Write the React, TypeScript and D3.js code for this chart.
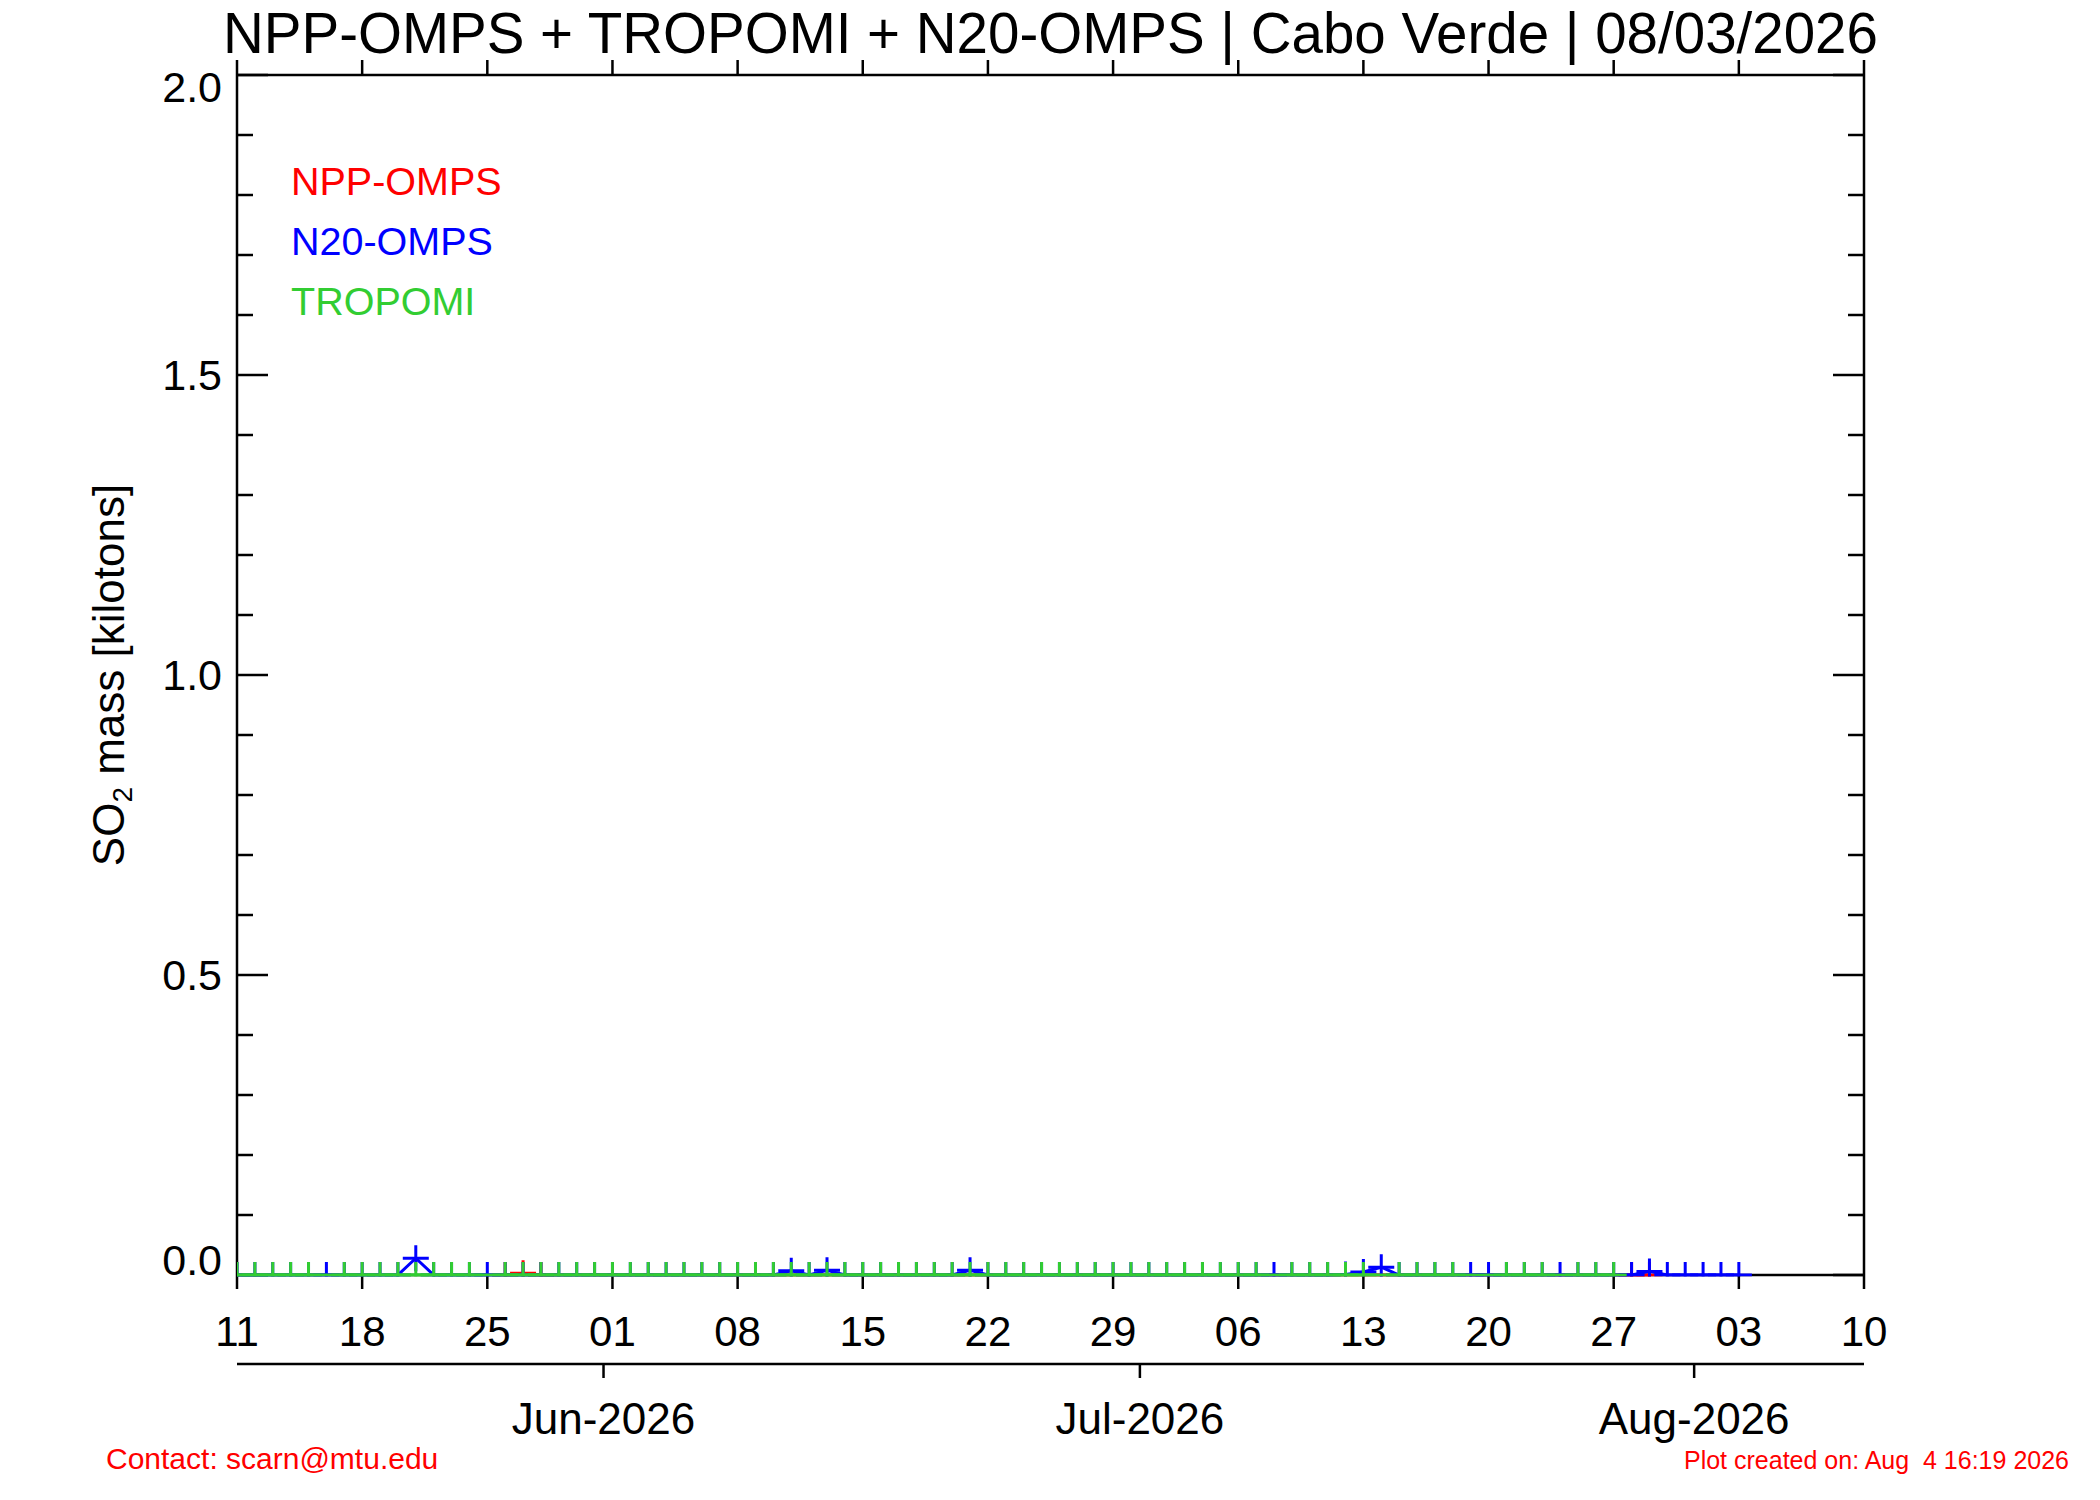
import * as d3 from "d3";

// date range of the day axis
const START = "2026-05-11";
const END = "2026-08-10";

const yMajorTicks = [0, 0.5, 1.0, 1.5, 2.0];
const yTickLabels = ["0.0", "0.5", "1.0", "1.5", "2.0"];

// N20-OMPS, one value per day from May 11 to Aug 03 (kilotons)
const n20Values = [
  0, 0, 0, 0, 0, 0, 0, // May 11-17
  0, 0, 0, 0.028, 0, 0, 0, // May 18-24
  0, 0, 0, 0, 0, 0, 0, // May 25-31
  0, 0, 0, 0, 0, 0, 0, // Jun 01-07
  0, 0, 0, 0.007, 0, 0.008, 0, // Jun 08-14
  0, 0, 0, 0, 0, 0, 0.008, // Jun 15-21
  0, 0, 0, 0, 0, 0, 0, // Jun 22-28
  0, 0, 0, 0, 0, 0, 0, // Jun 29-Jul 05
  0, 0, 0, 0, 0, 0, 0.001, // Jul 06-12
  0.005, 0.013, 0, 0, 0, 0, 0, // Jul 13-19
  0, 0, 0, 0, 0, 0, 0, // Jul 20-26
  0, 0, 0.006, 0, 0, 0, 0, // Jul 27-Aug 02
  0, // Aug 03
];

// TROPOMI, one value per day from May 11 to Jul 27, null = no data
const tropomiValues = [
  0, 0, 0, 0, 0, null, 0, // May 11-17
  0, 0, 0, 0, 0, 0, 0, // May 18-24
  null, 0, 0, 0, 0, 0, 0, // May 25-31
  0, 0, 0, 0, 0, 0, 0, // Jun 01-07
  0, 0, 0, 0, 0, 0, 0, // Jun 08-14
  0, 0, 0, 0, 0, 0, 0, // Jun 15-21
  0, 0, 0, 0, 0, 0, 0, // Jun 22-28
  0, 0, 0, 0, 0, 0, 0, // Jun 29-Jul 05
  0, 0, null, 0, 0, 0, 0, // Jul 06-12
  0, null, 0, 0, 0, 0, null, // Jul 13-19
  null, 0, 0, 0, null, 0, 0, // Jul 20-26
  0, // Jul 27
];

// NPP-OMPS
const nppDates = ["2026-05-26", "2026-05-27", "2026-05-28", "2026-07-28", "2026-07-29"];
const nppValues = [0, 0.003, 0, 0, 0];

const legendNames = ["NPP-OMPS", "N20-OMPS", "TROPOMI"];
const legendColors = ["#ff0000", "#0000ff", "#32cd32"];

const FONT = "'Liberation Sans', Arial, Helvetica, sans-serif";

type Pt = { date: Date; v: number };

export default function App() {
  const W = 2100;
  const H = 1500;
  const left = 237;
  const right = 1864;
  const top = 75;
  const bottom = 1275;

  const parse = d3.utcParse("%Y-%m-%d");
  const t0 = parse(START) as Date;
  const t1 = parse(END) as Date;

  const x = d3.scaleUtc().domain([t0, t1]).range([left, right]);
  // month axis is offset by half a day
  const xMonth = d3
    .scaleUtc()
    .domain([d3.utcHour.offset(t0, 12), d3.utcHour.offset(t1, 12)])
    .range([left, right]);
  const y = d3.scaleLinear().domain([0, 2]).range([bottom, top]);

  const weekTicks = d3.utcMonday.range(t0, d3.utcDay.offset(t1, 1));
  const monthTicks = d3.utcMonth.range(d3.utcDay.offset(t0, 1), t1);
  const yMinor = y.ticks(20);
  const fmtDay = d3.utcFormat("%d");
  const fmtMonth = d3.utcFormat("%b-%Y");

  const daily = (vals: (number | null)[]): Pt[] =>
    vals
      .map((v, i) => ({ date: d3.utcDay.offset(t0, i), v }))
      .filter((d) => d.v != null) as Pt[];

  const series = [
    { color: legendColors[0], data: nppDates.map((s, i) => ({ date: parse(s) as Date, v: nppValues[i] })) },
    { color: legendColors[1], data: daily(n20Values) },
    { color: legendColors[2], data: daily(tropomiValues) },
  ];

  const line = d3
    .line<Pt>()
    .x((d) => x(d.date))
    .y((d) => y(d.v));

  const plus = (d: Pt) => {
    const px = x(d.date);
    const py = y(d.v);
    return `M${px - 13},${py}h26M${px},${py - 13}v26`;
  };

  const yLabelDy = (v: number) => (v === 2 ? 27 : v === 0 ? 0 : 15);

  return (
    <svg
      width={W}
      height={H}
      style={{ position: "absolute", left: 0, top: 0, background: "#fff" }}
      fontFamily={FONT}
    >
      <rect width={W} height={H} fill="#fff" />
      <defs>
        <clipPath id="plotClip">
          <rect x={left} y={top} width={right - left} height={bottom - top + 1.5} />
        </clipPath>
      </defs>

      <text x={(left + right) / 2} y={53} fontSize={56.5} textAnchor="middle">
        NPP-OMPS + TROPOMI + N20-OMPS | Cabo Verde | 08/03/2026
      </text>

      {/* frame */}
      <g stroke="#000" strokeWidth={2.5} fill="none">
        <line x1={left} x2={right} y1={top} y2={top} />
        <line x1={left} x2={right} y1={bottom} y2={bottom} />
        <line x1={left} x2={left} y1={top} y2={bottom} />
        <line x1={right} x2={right} y1={top} y2={bottom} />
        {weekTicks.map((d, i) => (
          <g key={"w" + i}>
            <line x1={x(d)} x2={x(d)} y1={top} y2={top - 15} />
            <line x1={x(d)} x2={x(d)} y1={bottom} y2={bottom + 14} />
          </g>
        ))}
        {yMinor.map((v, i) => {
          const len = yMajorTicks.includes(v) ? 31 : 16;
          return (
            <g key={"y" + i}>
              <line x1={left} x2={left + len} y1={y(v)} y2={y(v)} />
              <line x1={right} x2={right - len} y1={y(v)} y2={y(v)} />
            </g>
          );
        })}
        <line x1={left} x2={right} y1={1364} y2={1364} />
        {monthTicks.map((d, i) => (
          <line key={"m" + i} x1={xMonth(d)} x2={xMonth(d)} y1={1364} y2={1378} />
        ))}
      </g>

      {/* tick labels */}
      {yMajorTicks.map((v, i) => (
        <text key={"yl" + i} x={222} y={y(v) + yLabelDy(v)} fontSize={43} textAnchor="end">
          {yTickLabels[i]}
        </text>
      ))}
      {weekTicks.map((d, i) => (
        <text key={"xl" + i} x={x(d)} y={1346} fontSize={42} textAnchor="middle">
          {fmtDay(d)}
        </text>
      ))}
      {monthTicks.map((d, i) => (
        <text key={"ml" + i} x={xMonth(d)} y={1434} fontSize={44} textAnchor="middle">
          {fmtMonth(d)}
        </text>
      ))}

      <text
        transform="translate(124,675) rotate(-90)"
        fontSize={44}
        textAnchor="middle"
        style={{ whiteSpace: "pre" }}
      >
        SO<tspan fontSize={28} dy={8}>2</tspan>
        <tspan dy={-8}> mass [kilotons]</tspan>
      </text>

      {/* data */}
      <g clipPath="url(#plotClip)" fill="none" strokeWidth={3}>
        {series.map((s, i) => (
          <g key={"s" + i} stroke={s.color}>
            <path d={line(s.data) || ""} />
            {s.data.map((d, j) => (
              <path key={j} d={plus(d)} />
            ))}
          </g>
        ))}
      </g>

      {/* legend */}
      {legendNames.map((name, i) => (
        <text key={"lg" + i} x={291} y={195 + i * 60} fontSize={39.5} fill={legendColors[i]}>
          {name}
        </text>
      ))}

      <text x={106} y={1469} fontSize={30} fill="#ff0000">
        Contact: scarn@mtu.edu
      </text>
      <text x={2069} y={1469} fontSize={25} fill="#ff0000" textAnchor="end" style={{ whiteSpace: "pre" }}>
        Plot created on: Aug  4 16:19 2026
      </text>
    </svg>
  );
}
